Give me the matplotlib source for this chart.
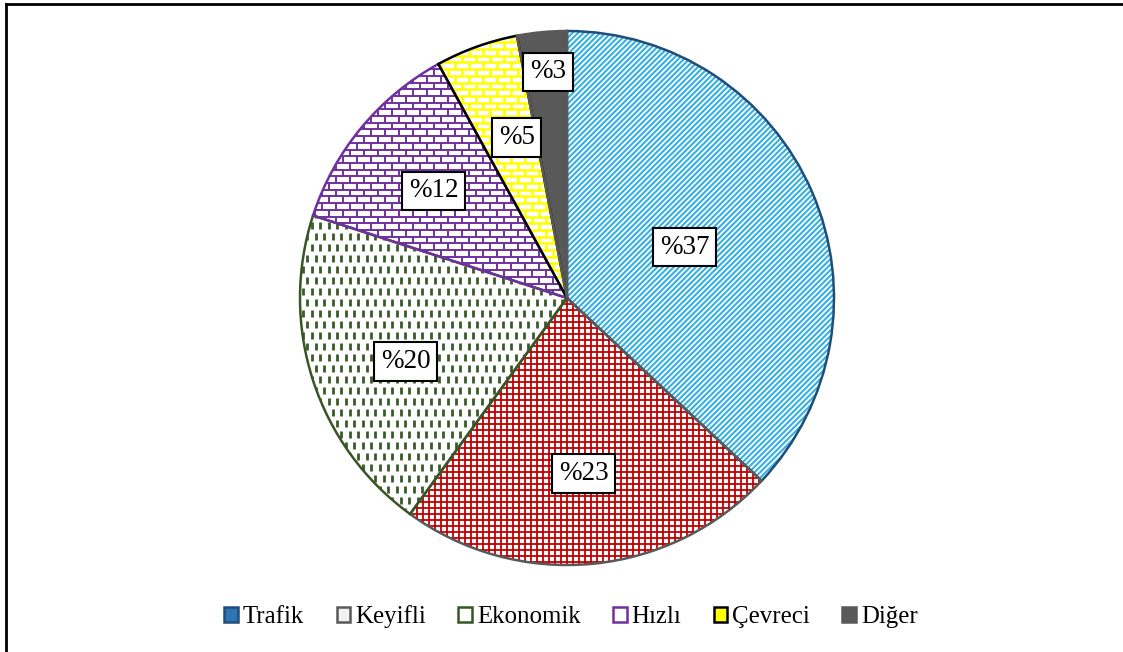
import numpy as np
import matplotlib
matplotlib.use("Agg")
from matplotlib import pyplot as plt
from matplotlib.collections import LineCollection
from matplotlib.lines import Line2D
from matplotlib.patches import Rectangle

labels = ["Trafik", "Keyifli", "Ekonomik", "Hızlı", "Çevreci", "Diğer"]
values = [37, 23, 20, 12, 5, 3]
pct_text = ["%37", "%23", "%20", "%12", "%5", "%3"]

edge_colors = ["#1f4e79", "#595959", "#375623", "#7030a0", "#000000", "#595959"]
face_colors = ["white", "white", "white", "white", "white", "#595959"]
label_dist = [0.48, 0.66, 0.65, 0.64, 0.63, 0.85]
label_shift = [0, 0, 3.5, 0.8, -2.4, -0.6]  # degrees

plt.rcParams["font.family"] = ["Liberation Serif", "DejaVu Serif"]

W, H = 1123, 652
fig = plt.figure(figsize=(W / 100, H / 100), dpi=100)
R = 267
cx, cy = 567, 298
ax = fig.add_axes([(cx - R) / W, (H - cy - R) / H, 2 * R / W, 2 * R / H])

wedges, _ = ax.pie(values, startangle=90, counterclock=False, radius=1,
                   colors=face_colors, wedgeprops=dict(linewidth=0))

px = 1.0 / R  # one pixel in data units


def diag(color, step, lw):
    segs = []
    for c in np.arange(-2.2, 2.2, step * px):
        segs.append([(-1.1, -1.1 + c), (1.1, 1.1 + c)])
    return LineCollection(segs, colors=color, linewidths=lw)


def grid(color, step, lw):
    segs = []
    for c in np.arange(-1.1, 1.1, step * px):
        segs.append([(c, -1.1), (c, 1.1)])
        segs.append([(-1.1, c), (1.1, c)])
    return LineCollection(segs, colors=color, linewidths=lw)


def dashes(color, dx, dy, length, lw):
    segs = []
    for i, y in enumerate(np.arange(-1.1, 1.1, dy * px)):
        off = (dx / 2) * px if i % 2 else 0
        for x in np.arange(-1.1 + off, 1.1, dx * px):
            segs.append([(x, y), (x, y + length * px)])
    return LineCollection(segs, colors=color, linewidths=lw)


def bricks(color, bw, bh, lw):
    segs = []
    for i, y in enumerate(np.arange(-1.1, 1.1, bh * px)):
        segs.append([(-1.1, y), (1.1, y)])
        off = (bw / 2) * px if i % 2 else 0
        for x in np.arange(-1.1 + off, 1.1, bw * px):
            segs.append([(x, y), (x, y + bh * px)])
    return LineCollection(segs, colors=color, linewidths=lw)


patterns = [
    diag("#35b0e2", 5.5, 1.5),
    grid("#c00000", 6, 1.3),
    dashes("#3a5a2a", 8.5, 11, 7, 2.0),
    bricks("#7030a0", 14, 6.7, 1.4),
    bricks("#ffff00", 14, 6.7, 1.8),
    None,
]
for w, pat in zip(wedges, patterns):
    if pat is None:
        continue
    pat.set_zorder(2)
    ax.add_collection(pat)
    pat.set_clip_path(w)

# outlines
outl, _ = ax.pie(values, startangle=90, counterclock=False, radius=1,
                 wedgeprops=dict(fill=False, linewidth=1.8))
for w, ec in zip(outl, edge_colors):
    w.set_edgecolor(ec)
    w.set_zorder(3)

ax.set_xlim(-1, 1)
ax.set_ylim(-1, 1)
ax.axis("off")

# labels
for w, t, d, s in zip(wedges, pct_text, label_dist, label_shift):
    ang = np.deg2rad((w.theta1 + w.theta2) / 2 + s)
    ax.text(d * np.cos(ang), d * np.sin(ang), t, fontsize=19.5,
            ha="center", va="center", zorder=5,
            bbox=dict(boxstyle="square,pad=0.25", fc="white", ec="black", lw=1.5))

# legend
handles = [
    Rectangle((0, 0), 1, 1, fc="#2e75b6", ec="#1f4e79", lw=1.8),
    Rectangle((0, 0), 1, 1, fc="#f2f2f2", ec="#595959", lw=1.8),
    Rectangle((0, 0), 1, 1, fc="white", ec="#375623", lw=1.8),
    Rectangle((0, 0), 1, 1, fc="white", ec="#7030a0", lw=1.8),
    Rectangle((0, 0), 1, 1, fc="#ffff00", ec="black", lw=1.8),
    Rectangle((0, 0), 1, 1, fc="#595959", ec="#595959", lw=1.8),
]
fig.legend(handles, labels, loc="center", bbox_to_anchor=(571 / W, (H - 617) / H),
           ncol=6, frameon=False, fontsize=17.9, handlelength=0.55,
           handleheight=0.55, handletextpad=0.2, columnspacing=1.3)

# frame lines (top and left)
fig.add_artist(Line2D([6 / W, 1], [1 - 4 / H, 1 - 4 / H], color="black", lw=2))
fig.add_artist(Line2D([6 / W, 6 / W], [0, 1 - 4 / H], color="black", lw=2))

fig.savefig("out.png", dpi=100)
